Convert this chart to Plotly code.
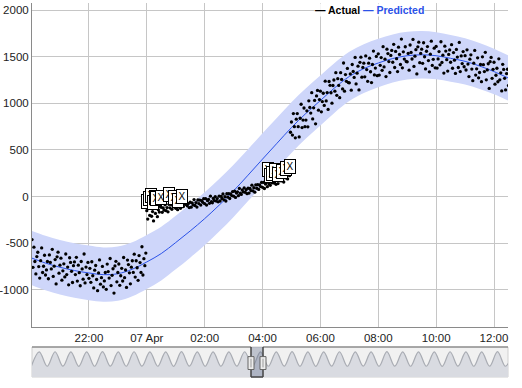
import plotly.graph_objects as go
import pandas as pd

# ---------------- data ----------------
pred_start = "2023-04-06 20:00"   # half-hourly predicted values
predicted = [-655, -712, -757, -792, -818, -836, -826, -778, -700, -610, -492, -368,
             -236, -92, 62, 230, 402, 572, 740, 892, 1030, 1168, 1288, 1372, 1432,
             1480, 1510, 1520, 1510, 1482, 1450, 1400, 1340, 1270]
band_upper = [-365, -420, -465, -500, -525, -545, -535, -488, -410, -322, -205, -82,
              48, 190, 342, 508, 678, 846, 1012, 1162, 1298, 1434, 1552, 1634, 1692,
              1738, 1766, 1774, 1762, 1732, 1698, 1646, 1584, 1512]
band_lower = [-945, -1004, -1049, -1084, -1111, -1127, -1117, -1068, -990, -898, -779,
              -654, -520, -374, -218, -48, 126, 298, 468, 622, 762, 902, 1024, 1110,
              1172, 1222, 1254, 1266, 1258, 1232, 1202, 1154, 1096, 1028]

# actual readings, one every 2 minutes, in three stretches
actual_a_start = "2023-04-06 20:02"
actual_a = [-460, -758, -542, -695, -828, -642, -596, -750, -873, -686, -550, -813, -746, -628, -840,
            -785, -695, -880, -625, -705, -775, -565, -855, -745, -675, -935, -645, -595, -820, -735,
            -660, -895, -795, -720, -860, -615, -835, -755, -945, -655, -705, -800, -920, -740, -700,
            -835, -650, -905, -735, -815, -955, -695, -775, -885, -615, -925, -755, -835, -705, -875,
            -768, -918, -698, -848, -978, -788, -738, -888, -1008, -818, -678, -938, -868, -748, -968,
            -903, -813, -993, -723, -803, -873, -663, -953, -843, -773, -1033, -743, -693, -913, -813,
            -722, -950, -848, -768, -904, -652, -868, -786, -973, -680, -728, -816, -934, -756, -687,
            -812, -617, -862, -687, -762, -897, -632, -707, -812, -537, -840, -665, -740, -605]
actual_b_start = "2023-04-07 00:00"
actual_b = [-150, -240, -120, -200, -90, -210, -160, -260, -110, -180, -120, -215, -140, -165, -105,
            -115, -168, -122, -145, -88, -150, -117, -163, -82, -120, -83, -136, -94, -110, -74,
            -125, -73, -140, -95, -82, -125, -42, -95, -107, -59, -83, -50, -98, -75, -117,
            -60, -113, -66, -89, -32, -95, -64, -112, -36, -74, -37, -90, -43, -61, -22,
            -75, -22, -90, -43, -30, -72, 5, -55, -66, -19, -42, 1, -48, -21, -56,
            5, -47, 3, -20, 28, -34, 0, -47, 31, -6, 32, -20, 28, 11, 54,
            5, 58, -9, 39, 52, 10, 88, 36, 24, 72, 50, 93, 46, 74, 32,
            90, 38, 87, 65, 123, 62, 95, 48, 127, 90, 128, 77, 125, 108, 152,
            100, 153, 87, 135, 148, 107, 185, 133, 122, 170, 148, 192, 145, 173, 132,
            190, 140, 189, 169, 228, 168, 202, 157, 237, 201, 241, 190, 240, 225]
actual_c_start = "2023-04-07 04:58"
actual_c = [690,
            800, 660, 890, 750, 630, 830, 890, 750, 640, 840, 990, 740, 820, 950, 750,
            820, 919, 748, 1027, 956, 895, 1114, 833, 952, 1031, 780, 1079, 1138, 927, 1040,
            1130, 909, 1019, 1108, 977, 1237, 1026, 1115, 935, 1234, 1193, 1113, 1002, 1191, 1250,
            1130, 1328, 1086, 1264, 1192, 1060, 1328, 1256, 1154, 1432, 1130, 1308, 1236, 1374, 1222,
            1220, 1315, 1141, 1416, 1342, 1277, 1492, 1208, 1323, 1398, 1144, 1439, 1494, 1280, 1385,
            1430, 1284, 1508, 1362, 1236, 1430, 1484, 1338, 1222, 1416, 1560, 1304, 1378, 1502, 1296,
            1530, 1303, 1407, 1490, 1353, 1607, 1390, 1473, 1287, 1580, 1533, 1447, 1330, 1513, 1567,
            1440, 1632, 1384, 1556, 1478, 1340, 1602, 1524, 1416, 1688, 1380, 1552, 1474, 1606, 1448,
            1445, 1535, 1355, 1625, 1545, 1475, 1685, 1395, 1505, 1575, 1315, 1605, 1655, 1435, 1535,
            1580, 1429, 1649, 1499, 1369, 1558, 1608, 1458, 1337, 1527, 1666, 1406, 1471, 1591, 1380,
            1610, 1378, 1476, 1554, 1412, 1660, 1438, 1516, 1324, 1612, 1560, 1468, 1346, 1524, 1572,
            1440, 1628, 1376, 1544, 1462, 1320, 1578, 1496, 1384, 1652, 1340, 1508, 1426, 1554, 1392,
            1510, 1357, 1573, 1420, 1287, 1473, 1520, 1367, 1243, 1430, 1567, 1303, 1370, 1487, 1273,
            1330, 1416, 1232, 1498, 1414, 1340, 1546, 1252, 1358, 1424, 1160, 1446, 1492, 1268, 1364,
            1440, 1205, 1301, 1376, 1231, 1477, 1252, 1327, 1133, 1418, 1363, 1268, 1144, 1319, 1365, 1190]

# flagged readings ("X" annotations)
flag_times = ["2023-04-07 00:00", "2023-04-07 00:04", "2023-04-07 00:08", "2023-04-07 00:12",
              "2023-04-07 00:16", "2023-04-07 00:20", "2023-04-07 00:30", "2023-04-07 00:46",
              "2023-04-07 00:56", "2023-04-07 01:04", "2023-04-07 01:14",
              "2023-04-07 04:12", "2023-04-07 04:16", "2023-04-07 04:20", "2023-04-07 04:26",
              "2023-04-07 04:32", "2023-04-07 04:40", "2023-04-07 04:48", "2023-04-07 04:56"]
flag_text = "X"

tick_times = ["2023-04-06 22:00", "2023-04-07 00:00", "2023-04-07 02:00", "2023-04-07 04:00",
              "2023-04-07 06:00", "2023-04-07 08:00", "2023-04-07 10:00", "2023-04-07 12:00"]
tick_labels = ["22:00", "07 Apr", "02:00", "04:00", "06:00", "08:00", "10:00", "12:00"]
y_ticks = [-1000, -500, 0, 500, 1000, 1500, 2000]
y_tick_labels = ["-1000", "-500", "0", "500", "1000", "1500", "2000"]

# range selector overview: alternating daily troughs / peaks of the full series
overview_extrema = [-830, 1510, -845, 1525, -835, 1515, -850, 1520, -840, 1530, -835, 1510,
                    -845, 1525, -830, 1515, -840, 1520, -850, 1530, -835, 1515, -845, 1520,
                    -840, 1510, -830, 1525, -838, 1520, -845, 1515, -835, 1530, -840, 1520,
                    -850, 1510, -835, 1525, -845, 1515, -830, 1520, -840, 1530, -835, 1515,
                    -845, 1520, -840, 1510, -850, 1525, -835, 1515, -845, 1520, -830, 1530,
                    -840, 1520]
window_start, window_end = 27.8, 29.32

# ---------------- figure ----------------
FONT = "Liberation Sans, Arial, Helvetica, sans-serif"
BLUE = "#2b52e8"
GRID = "#c6c6c6"

pred_x = pd.date_range(pred_start, periods=len(predicted), freq="30min")
ax = pd.date_range(actual_a_start, periods=len(actual_a), freq="2min")
bx = pd.date_range(actual_b_start, periods=len(actual_b), freq="2min")
cx = pd.date_range(actual_c_start, periods=len(actual_c), freq="2min")
actual_x = list(ax) + list(bx) + list(cx)
actual_y = actual_a + actual_b + actual_c
actual_series = pd.Series(actual_y, index=pd.DatetimeIndex(actual_x))

fig = go.Figure()
fig.add_trace(go.Scatter(x=pred_x, y=band_upper, mode="lines",
                         line=dict(width=0, shape="spline"), hoverinfo="skip", showlegend=False))
fig.add_trace(go.Scatter(x=pred_x, y=band_lower, mode="lines", fill="tonexty",
                         fillcolor="rgb(206,214,250)",
                         line=dict(width=0, shape="spline"), hoverinfo="skip", showlegend=False))
fig.add_trace(go.Scatter(x=pred_x, y=predicted, mode="lines", name="Predicted",
                         line=dict(color=BLUE, width=1, shape="spline"), showlegend=False))
fig.add_trace(go.Scatter(x=actual_x, y=actual_y, mode="markers", name="Actual",
                         marker=dict(color="black", size=3.3, line=dict(width=0)),
                         showlegend=False))

# overview (range selector)
ov_x = list(range(len(overview_extrema)))
ymin2, ymax2 = -2600, 2300
fig.add_trace(go.Scatter(x=[ov_x[0], ov_x[-1]], y=[ymin2, ymin2], xaxis="x2", yaxis="y2",
                         mode="lines", line=dict(width=0), hoverinfo="skip", showlegend=False))
fig.add_trace(go.Scatter(x=ov_x, y=overview_extrema, xaxis="x2", yaxis="y2", mode="lines",
                         line=dict(color="#a9acb3", width=1.2, shape="spline", smoothing=1.0),
                         fill="tonexty", fillcolor="#d9dbe1", hoverinfo="skip", showlegend=False))

annotations = []
for t in flag_times:
    ts = pd.Timestamp(t)
    annotations.append(dict(x=ts, y=float(actual_series[ts]), xref="x", yref="y",
                            text=flag_text, showarrow=False, yanchor="bottom", yshift=2,
                            font=dict(family=FONT, size=10, color="black"),
                            bgcolor="white", bordercolor="black", borderwidth=1,
                            borderpad=1, width=8, height=11))
annotations.append(dict(xref="paper", yref="paper", x=0.708, y=0.981, xanchor="center",
                        yanchor="middle", showarrow=False, bgcolor="rgba(255,255,255,0.85)",
                        borderpad=0,
                        text="<b>— Actual</b> <b><span style='color:%s'>— Predicted</span></b>" % BLUE,
                        font=dict(family=FONT, size=10.5, color="black")))

x_lo, x_hi = 0.08, 60.33
shapes = [
    dict(type="rect", xref="x2 domain", yref="y2 domain", x0=0, x1=1, y0=0, y1=1,
         fillcolor="#f1f1f1", line=dict(color="#cfcfcf", width=1), layer="below"),
    dict(type="rect", xref="x2", yref="y2 domain", x0=window_start, x1=window_end, y0=0, y1=1,
         fillcolor="rgba(95,110,140,0.35)", line=dict(width=0), layer="above"),
    dict(type="line", xref="x2", yref="y2 domain", x0=x_lo, x1=window_start, y0=1, y1=1,
         line=dict(color="#6b6b6b", width=1.2)),
    dict(type="line", xref="x2", yref="y2 domain", x0=window_end, x1=x_hi, y0=1, y1=1,
         line=dict(color="#6b6b6b", width=1.2)),
    dict(type="line", xref="x2", yref="y2 domain", x0=window_start, x1=window_start, y0=0, y1=1,
         line=dict(color="#444", width=1.5)),
    dict(type="line", xref="x2", yref="y2 domain", x0=window_end, x1=window_end, y0=0, y1=1,
         line=dict(color="#444", width=1.5)),
    dict(type="line", xref="x2", yref="y2 domain", x0=window_start, x1=window_end, y0=0, y1=0,
         line=dict(color="#444", width=1.5)),
]
for wx in (window_start, window_end):
    shapes.append(dict(type="rect", xref="x2", yref="y2 domain", xsizemode="pixel", xanchor=wx,
                       x0=-3, x1=3, y0=0.25, y1=0.68, fillcolor="#ececec",
                       line=dict(color="#666", width=1)))
    shapes.append(dict(type="line", xref="x2", yref="y2 domain", xsizemode="pixel", xanchor=wx,
                       x0=0, x1=0, y0=0.32, y1=0.61, line=dict(color="#999", width=1)))

fig.update_layout(
    width=522, height=388,
    margin=dict(l=32, r=14, t=3, b=11, autoexpand=False),
    paper_bgcolor="white", plot_bgcolor="white",
    font=dict(family=FONT, size=11.5, color="#222"),
    showlegend=False, hovermode=False,
    xaxis=dict(type="date", range=["2023-04-06 20:02", "2023-04-07 12:29"],
               domain=[0, 1], anchor="y", automargin=False,
               tickmode="array", tickvals=tick_times, ticktext=tick_labels,
               showgrid=True, gridcolor=GRID, gridwidth=1,
               showline=True, linecolor="#8a8a8a", linewidth=1, ticks="",
               zeroline=False, tickfont=dict(size=11.5, color="#222")),
    yaxis=dict(range=[-1397, 2075], domain=[0.1337, 1], anchor="x", automargin=False,
               tickmode="array", tickvals=y_ticks, ticktext=y_tick_labels,
               showgrid=True, gridcolor=GRID, gridwidth=1,
               showline=True, linecolor="#8a8a8a", linewidth=1, ticks="",
               zeroline=False, tickfont=dict(size=11.5, color="#222")),
    xaxis2=dict(range=[x_lo, x_hi], domain=[0, 1], anchor="y2", visible=False),
    yaxis2=dict(range=[ymin2, ymax2], domain=[0, 0.0802], anchor="x2", visible=False),
    annotations=annotations,
    shapes=shapes,
)

fig.write_html("out.html", config={"displayModeBar": False},
               post_script="document.body.style.margin='0';document.body.style.overflow='hidden';")
